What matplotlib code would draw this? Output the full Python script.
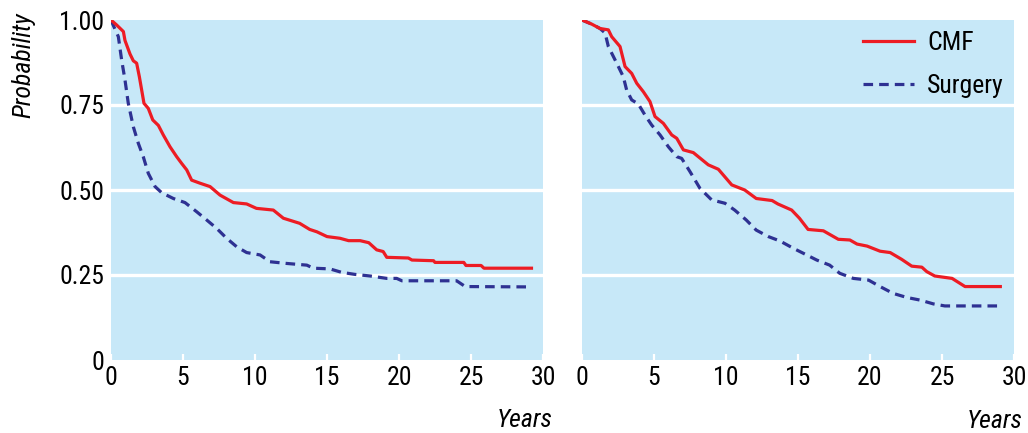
import matplotlib
matplotlib.use("Agg")
import matplotlib.pyplot as plt
from matplotlib import font_manager

# ---------------- data ----------------
left_cmf_t = [0, 0.4, 0.86, 0.97, 1.32, 1.55, 1.78, 1.97, 2.13, 2.29, 2.59, 2.9, 3.29, 3.63, 4.1,
              4.56, 4.91, 5.26, 5.6, 6.18, 6.88, 7.57, 8.5, 9.42, 10.1, 11.27, 11.97, 13.1, 13.8,
              14.3, 15.0, 15.9, 16.5, 17.3, 17.9, 18.45, 18.9, 19.15, 20.65, 20.9, 22.4, 22.5,
              24.5, 24.65, 25.7, 25.9, 29.2]
left_cmf_p = [1.0, 0.985, 0.966, 0.94, 0.90, 0.88, 0.873, 0.833, 0.794, 0.755, 0.74, 0.706, 0.69,
              0.662, 0.627, 0.598, 0.578, 0.559, 0.529, 0.52, 0.51, 0.485, 0.463, 0.459, 0.446,
              0.441, 0.417, 0.402, 0.384, 0.377, 0.363, 0.358, 0.351, 0.351, 0.345, 0.324, 0.319,
              0.302, 0.30, 0.294, 0.292, 0.287, 0.287, 0.278, 0.278, 0.27, 0.27]

left_surg_t = [0, 0.1, 0.51, 0.74, 0.97, 1.2, 1.55, 1.9, 2.24, 2.59, 3.06, 3.52, 4.33, 5.14, 5.95,
               6.64, 7.34, 8.03, 8.73, 9.42, 10.35, 11.04, 12.2, 13.6, 14.05, 15.2, 16.0, 16.9,
               18.0, 19.15, 19.84, 20.2, 24.0, 24.6, 28.95]
left_surg_p = [1.0, 0.99, 0.951, 0.882, 0.824, 0.755, 0.686, 0.637, 0.598, 0.549, 0.51, 0.492,
               0.475, 0.463, 0.436, 0.412, 0.387, 0.358, 0.333, 0.316, 0.309, 0.289, 0.284, 0.279,
               0.27, 0.268, 0.258, 0.252, 0.247, 0.24, 0.24, 0.233, 0.233, 0.216, 0.215]

right_cmf_t = [0, 0.67, 1.25, 1.83, 2.06, 2.64, 2.99, 3.45, 3.8, 4.26, 4.72, 5.07, 5.65, 6.23,
               6.58, 7.04, 7.73, 8.77, 9.47, 10.4, 11.3, 12.1, 13.2, 13.6, 14.56, 15.1, 15.7,
               16.76, 17.8, 18.6, 19.1, 19.8, 20.7, 21.4, 22.2, 22.9, 23.6, 23.94, 24.5, 25.7,
               26.6, 29.05]
right_cmf_p = [1.0, 0.988, 0.975, 0.971, 0.951, 0.922, 0.863, 0.843, 0.814, 0.789, 0.76, 0.716,
               0.696, 0.662, 0.652, 0.618, 0.61, 0.574, 0.561, 0.515, 0.50, 0.475, 0.469, 0.459,
               0.441, 0.417, 0.384, 0.38, 0.355, 0.353, 0.341, 0.335, 0.32, 0.316, 0.296, 0.276,
               0.273, 0.26, 0.247, 0.24, 0.216, 0.216]

right_surg_t = [0, 0.67, 1.25, 1.6, 1.83, 2.41, 2.87, 3.1, 3.45, 3.91, 4.38, 4.84, 5.42, 6.0,
                6.58, 6.92, 7.5, 8.19, 9.0, 9.93, 10.6, 11.4, 12.1, 12.94, 13.75, 14.7, 15.6,
                16.3, 17.2, 17.9, 18.84, 19.9, 20.7, 21.6, 22.55, 23.5, 24.4, 25.2, 29.0]
right_surg_p = [1.0, 0.988, 0.975, 0.962, 0.922, 0.873, 0.833, 0.794, 0.765, 0.753, 0.72, 0.691,
                0.662, 0.627, 0.598, 0.593, 0.554, 0.505, 0.471, 0.461, 0.441, 0.412, 0.382,
                0.363, 0.35, 0.328, 0.309, 0.294, 0.279, 0.255, 0.24, 0.235, 0.216, 0.196, 0.184,
                0.176, 0.165, 0.159, 0.159]

series_labels = ["CMF", "Surgery"]
x_ticks = [0, 5, 10, 15, 20, 25, 30]
y_ticks = [0, 0.25, 0.5, 0.75, 1.0]
y_tick_labels = ["0", "0.25", "0.50", "0.75", "1.00"]
x_label = "Years"
y_label = "Probability"

# ---------------- style ----------------
names = {f.name for f in font_manager.fontManager.ttflist}
family = "Liberation Sans"
for cand in ["Nimbus Sans Narrow", "Liberation Sans Narrow", "Arial Narrow", "Roboto Condensed",
             "Archivo Narrow", "Barlow Semi Condensed", "Asap Condensed"]:
    if cand in names:
        family = cand
        break
plt.rcParams["font.family"] = [family, "DejaVu Sans"]

BG = "#C7E8F8"
RED = "#ED1C24"
BLUE = "#2E3192"
FS = 18.5

fig = plt.figure(figsize=(10.28, 4.33), dpi=100)
W, H = 1028, 433
ax_l = fig.add_axes([111 / W, 1 - 360 / H, 432 / W, 340 / H])
ax_r = fig.add_axes([582 / W, 1 - 360 / H, 432 / W, 340 / H])

panels = [
    (ax_l, left_cmf_t, left_cmf_p, left_surg_t, left_surg_p),
    (ax_r, right_cmf_t, right_cmf_p, right_surg_t, right_surg_p),
]

for ax, ct, cp, st, sp in panels:
    ax.set_facecolor(BG)
    for s in ax.spines.values():
        s.set_visible(False)
    for g in [0.25, 0.5, 0.75]:
        ax.axhline(g, color="white", lw=2.4, zorder=1)
    ax.plot(st, sp, color=BLUE, lw=2.3, dashes=(3.0, 1.9), label=series_labels[1], zorder=3)
    ax.plot(ct, cp, color=RED, lw=2.3, label=series_labels[0], zorder=4)
    ax.set_xlim(0, 30)
    ax.set_ylim(0, 1)
    ax.set_xticks(x_ticks)
    ax.set_xticklabels([str(v) for v in x_ticks], fontsize=FS)
    ax.tick_params(axis="x", direction="in", length=4.5, width=1.6, color="white", pad=4)
    ax.set_yticks(y_ticks)
    ax.tick_params(axis="y", length=0, pad=5)

ax_l.set_yticklabels(y_tick_labels, fontsize=FS)
ax_r.set_yticklabels([])

handles, labels = ax_r.get_legend_handles_labels()
order = [labels.index(series_labels[0]), labels.index(series_labels[1])]
ax_r.legend([handles[i] for i in order], [labels[i] for i in order],
            loc="upper left", bbox_to_anchor=(0.65, 0.968), frameon=False,
            fontsize=FS, handlelength=2.0, handletextpad=0.5, labelspacing=0.75,
            borderpad=0, borderaxespad=0)

fig.text(553 / W, 1 - 420 / H, x_label, ha="right", va="center", fontsize=FS, style="italic")
fig.text(1023 / W, 1 - 421 / H, x_label, ha="right", va="center", fontsize=FS, style="italic")
fig.text(23 / W, 1 - 65 / H, y_label, ha="center", va="center", rotation=90, fontsize=FS,
         style="italic")

fig.savefig("out.png", dpi=100)
